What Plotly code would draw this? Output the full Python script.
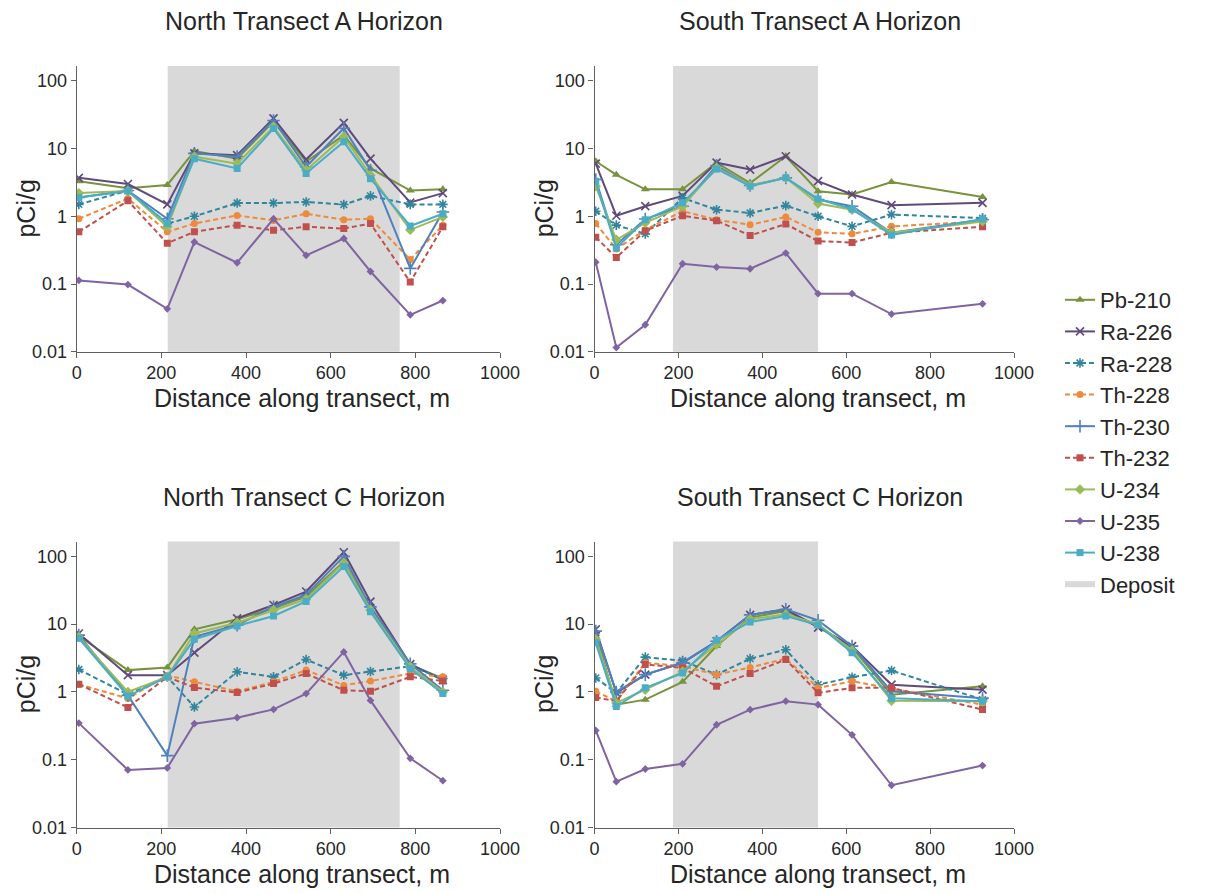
import plotly.graph_objects as go

# ---------------- data ----------------
series_names = ["Pb-210", "Ra-226", "Ra-228", "Th-228", "Th-230", "Th-232", "U-234", "U-235", "U-238"]

x_north = [5, 121, 214, 278, 379, 465, 542, 631, 694, 788, 865]
x_south = [3, 52, 121, 210, 291, 371, 456, 533, 614, 708, 925]

deposit_north = [215, 763]
deposit_south = [187, 533]

# North Transect A Horizon
Pb210_NA = [3.3, 2.6, 2.9, 9.2, 7.1, 25, 6.4, 15.8, 5.1, 2.4, 2.5]
Ra226_NA = [3.7, 3.0, 1.5, 8.5, 8.0, 28, 6.9, 24, 7.1, 1.6, 2.2]
Ra228_NA = [1.5, 2.4, 0.78, 1.0, 1.57, 1.57, 1.63, 1.49, 2.0, 1.5, 1.5]
Th228_NA = [0.92, 1.83, 0.59, 0.78, 1.03, 0.87, 1.09, 0.89, 0.92, 0.23, 0.74]
Th230_NA = [1.9, 2.4, 0.92, 8.5, 7.6, 26, 5.4, 20, 4.8, 0.17, 1.16]
Th232_NA = [0.59, 1.69, 0.40, 0.59, 0.74, 0.62, 0.70, 0.66, 0.78, 0.107, 0.70]
U234_NA = [2.2, 2.37, 0.70, 7.6, 6.0, 21, 4.8, 15, 4.05, 0.63, 0.98]
U235_NA = [0.113, 0.098, 0.043, 0.417, 0.206, 0.92, 0.265, 0.47, 0.153, 0.035, 0.057]
U238_NA = [1.9, 2.37, 0.78, 7.1, 5.1, 19.8, 4.3, 12.6, 3.6, 0.72, 1.09]

# South Transect A Horizon
Pb210_SA = [6.5, 4.1, 2.5, 2.5, 6.2, 3.1, 7.7, 2.35, 2.1, 3.2, 1.93]
Ra226_SA = [6.0, 1.02, 1.41, 2.0, 6.2, 4.9, 7.7, 3.3, 2.1, 1.46, 1.58]
Ra228_SA = [1.19, 0.74, 0.55, 1.87, 1.25, 1.12, 1.44, 1.0, 0.71, 1.06, 0.94]
Th228_SA = [0.78, 0.33, 0.63, 1.19, 0.89, 0.75, 0.98, 0.58, 0.55, 0.71, 0.84]
Th230_SA = [3.5, 0.38, 0.91, 1.41, 5.6, 2.85, 3.7, 1.77, 1.41, 0.57, 0.89]
Th232_SA = [0.49, 0.246, 0.61, 1.02, 0.86, 0.52, 0.77, 0.43, 0.41, 0.57, 0.70]
U234_SA = [2.78, 0.45, 0.80, 1.41, 5.2, 2.85, 3.7, 1.54, 1.25, 0.57, 0.84]
U235_SA = [0.21, 0.0115, 0.025, 0.199, 0.178, 0.168, 0.286, 0.072, 0.072, 0.036, 0.051]
U238_SA = [3.3, 0.34, 0.89, 1.58, 5.0, 2.78, 3.7, 1.8, 1.28, 0.53, 0.91]

# North Transect C Horizon
Pb210_NC = [6.7, 2.1, 2.3, 8.4, 11.8, 17.2, 25.5, 84, 17.2, 2.5, 1.58]
Ra226_NC = [7.3, 1.77, 1.77, 3.8, 12.2, 19.2, 30.3, 115, 21.5, 2.57, 1.5]
Ra228_NC = [2.14, 0.92, 1.67, 0.60, 1.98, 1.67, 3.0, 1.77, 2.0, 2.4, 1.58]
Th228_NC = [1.30, 0.80, 1.77, 1.41, 1.02, 1.41, 2.1, 1.25, 1.45, 1.87, 1.67]
Th230_NC = [6.9, 0.89, 0.115, 6.5, 9.7, 18.1, 27, 100, 18, 2.6, 1.06]
Th232_NC = [1.30, 0.59, 1.67, 1.16, 0.98, 1.33, 1.87, 1.06, 1.02, 1.67, 1.45]
U234_NC = [6.5, 1.0, 1.67, 7.3, 10.5, 16.2, 23.3, 80, 16.2, 2.35, 1.0]
U235_NC = [0.347, 0.0706, 0.0757, 0.34, 0.417, 0.553, 0.945, 3.9, 0.75, 0.105, 0.049]
U238_NC = [6.2, 0.87, 1.67, 6.0, 9.4, 13.2, 21.6, 71, 15.3, 2.2, 0.95]

# South Transect C Horizon
Pb210_SC = [7.2, 0.65, 0.77, 1.41, 4.75, 12.5, 15.7, 9.4, 4.5, 0.91, 1.21]
Ra226_SC = [8.4, 0.97, 1.8, 2.7, 5.6, 13.7, 16.6, 8.9, 4.75, 1.28, 1.08]
Ra228_SC = [1.61, 0.97, 3.26, 2.9, 1.8, 3.1, 4.2, 1.28, 1.65, 2.07, 0.77]
Th228_SC = [1.02, 0.73, 2.7, 2.4, 1.8, 2.3, 3.1, 1.15, 1.44, 1.12, 0.65]
Th230_SC = [7.9, 1.0, 1.8, 2.7, 5.6, 13.7, 16.6, 11.4, 4.75, 1.02, 0.81]
Th232_SC = [0.83, 0.73, 2.54, 2.27, 1.21, 1.87, 3.0, 0.97, 1.15, 1.15, 0.55]
U234_SC = [6.0, 0.69, 1.08, 2.0, 5.0, 11.8, 14.0, 10, 4.1, 0.74, 0.73]
U235_SC = [0.27, 0.0475, 0.073, 0.087, 0.328, 0.547, 0.73, 0.65, 0.233, 0.042, 0.082]
U238_SC = [5.3, 0.61, 1.15, 1.9, 5.8, 10.8, 13.2, 9.7, 3.8, 0.81, 0.73]

panel_titles = ["North Transect A Horizon", "South Transect A Horizon",
                "North Transect C Horizon", "South Transect C Horizon"]
x_ticks = [0, 200, 400, 600, 800, 1000]
y_tickvals = [0.01, 0.1, 1, 10, 100]
y_ticktext = ["0.01", "0.1", "1", "10", "100"]
x_title = "Distance along transect, m"
y_title = "pCi/g"

# ---------------- styling ----------------
FONT = "Liberation Sans, Arial, sans-serif"
TXT = "#262626"
AX = "#606060"

styles = {
    "Pb-210": dict(color="#77933C", symbol="triangle-up", size=8, dash="solid"),
    "Ra-226": dict(color="#604A7B", symbol="x-thin", size=8, dash="solid"),
    "Ra-228": dict(color="#31859C", symbol="asterisk", size=8, dash="5px,3px"),
    "Th-228": dict(color="#EE8A3C", symbol="circle", size=7, dash="5px,3px"),
    "Th-230": dict(color="#4F81BD", symbol="cross-thin", size=9, dash="solid"),
    "Th-232": dict(color="#C0504D", symbol="square", size=7, dash="5px,3px"),
    "U-234": dict(color="#9BBB59", symbol="diamond", size=8, dash="solid"),
    "U-235": dict(color="#8064A2", symbol="diamond", size=6, dash="solid"),
    "U-238": dict(color="#4BACC6", symbol="square", size=7, dash="solid"),
}

panels = [
    (x_north, deposit_north, [Pb210_NA, Ra226_NA, Ra228_NA, Th228_NA, Th230_NA, Th232_NA, U234_NA, U235_NA, U238_NA]),
    (x_south, deposit_south, [Pb210_SA, Ra226_SA, Ra228_SA, Th228_SA, Th230_SA, Th232_SA, U234_SA, U235_SA, U238_SA]),
    (x_north, deposit_north, [Pb210_NC, Ra226_NC, Ra228_NC, Th228_NC, Th230_NC, Th232_NC, U234_NC, U235_NC, U238_NC]),
    (x_south, deposit_south, [Pb210_SC, Ra226_SC, Ra228_SC, Th228_SC, Th230_SC, Th232_SC, U234_SC, U235_SC, U238_SC]),
]

W, H = 1211, 893
# plot-area pixel boxes: (left, right, top, bottom)
boxes = [(76.7, 500, 66, 351.7), (594.5, 1014, 66, 351.7),
         (76.7, 500, 541.5, 827.5), (594.5, 1014, 541.5, 827.5)]

fig = go.Figure()
shapes = []
annotations = []
layout_axes = {}

for i, ((xs, dep, vals), box) in enumerate(zip(panels, boxes)):
    n = i + 1
    sfx = "" if n == 1 else str(n)
    xref, yref = "x" + sfx, "y" + sfx
    l, r, t, b = box
    for name, ys in zip(series_names, vals):
        st = styles[name]
        line_symbol = st["symbol"] in ("x-thin", "cross-thin", "asterisk")
        fig.add_trace(go.Scatter(
            x=xs, y=ys, name=name, legendgroup=name, showlegend=(n == 1),
            mode="lines+markers", xaxis=xref, yaxis=yref,
            line=dict(color=st["color"], width=2, dash=st["dash"]),
            marker=dict(symbol=st["symbol"], size=st["size"], color=st["color"],
                        line=dict(color=st["color"], width=1.6 if line_symbol else 0)),
        ))
    shapes.append(dict(type="rect", xref=xref, yref=yref + " domain",
                       x0=dep[0], x1=dep[1], y0=0, y1=1,
                       fillcolor="#D9D9D9", line=dict(width=0), layer="below"))
    axis_common = dict(showline=True, linecolor=AX, linewidth=1.3, ticks="outside",
                       ticklen=5, tickcolor=AX, tickwidth=1.3, showgrid=False, zeroline=False,
                       automargin=False,
                       tickfont=dict(family=FONT, size=18, color=TXT))
    layout_axes["xaxis" + sfx] = dict(axis_common, domain=[l / W, r / W], anchor=yref,
                                      range=[0, 1000], tickvals=x_ticks)
    layout_axes["yaxis" + sfx] = dict(axis_common, domain=[1 - b / H, 1 - t / H], anchor=xref,
                                      type="log", range=[-2, 2.22],
                                      tickvals=y_tickvals, ticktext=y_ticktext)
    cx = (l + r) / 2
    # subplot title
    annotations.append(dict(text=panel_titles[i], xref="paper", yref="paper",
                            x=(cx + 16) / W, y=1 - (t - 45) / H, showarrow=False,
                            xanchor="center", yanchor="middle",
                            font=dict(family=FONT, size=25, color=TXT)))
    # x axis title
    annotations.append(dict(text=x_title, xref="paper", yref="paper",
                            x=(cx + 14) / W, y=1 - (b + 46) / H, showarrow=False,
                            xanchor="center", yanchor="middle",
                            font=dict(family=FONT, size=25, color=TXT)))
    # y axis title
    annotations.append(dict(text=y_title, xref="paper", yref="paper",
                            x=(l - 51) / W, y=1 - ((t + b) / 2) / H, showarrow=False,
                            xanchor="center", yanchor="middle", textangle=-90,
                            font=dict(family=FONT, size=25, color=TXT)))

# legend entry for deposit shading
fig.add_trace(go.Scatter(x=[None], y=[None], name="Deposit", mode="none",
                         fill="toself", fillcolor="#D9D9D9", showlegend=True))

fig.update_layout(
    width=W, height=H, margin=dict(l=0, r=0, t=0, b=0, autoexpand=False),
    paper_bgcolor="white", plot_bgcolor="white",
    shapes=shapes, annotations=annotations,
    legend=dict(x=1060 / W, y=1 - 279 / H, xanchor="left", yanchor="top",
                font=dict(family=FONT, size=22, color=TXT),
                bgcolor="rgba(0,0,0,0)", tracegroupgap=0),
    **layout_axes,
)

fig.write_html("out.html")
